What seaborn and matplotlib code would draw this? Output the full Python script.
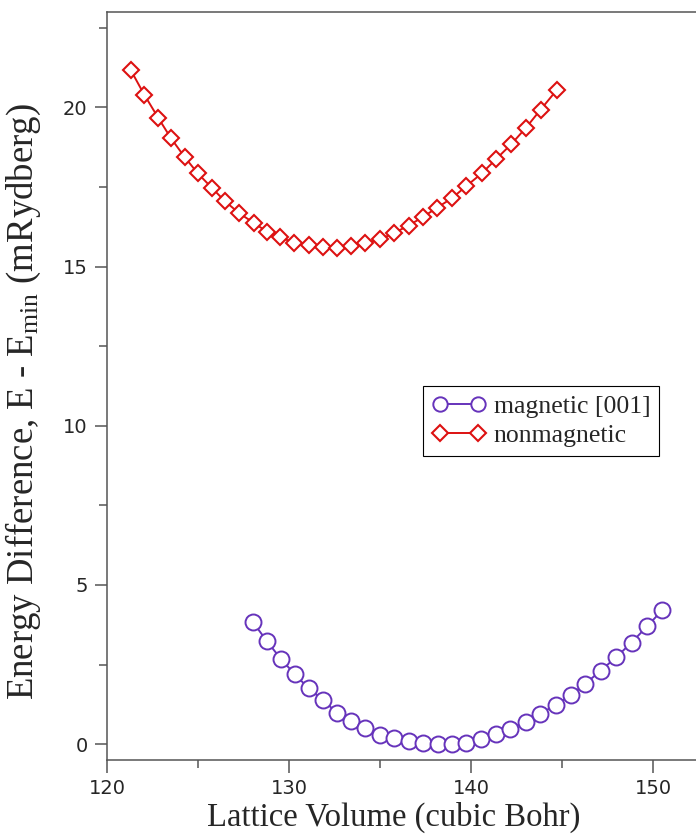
import numpy as np
import pandas as pd
import matplotlib
matplotlib.use('Agg')
from matplotlib import pyplot as plt
from matplotlib.ticker import MultipleLocator
import seaborn as sns

# lattice volume (cubic Bohr) and E - Emin (mRydberg)
vol_mag = [128.02, 128.79, 129.56, 130.31, 131.08, 131.87, 132.64, 133.43, 134.20, 134.99,
           135.76, 136.59, 137.38, 138.18, 138.97, 139.71, 140.54, 141.35, 142.17, 143.00,
           143.79, 144.65, 145.48, 146.27, 147.13, 147.98, 148.82, 149.68, 150.51]
e_mag = [3.83, 3.23, 2.67, 2.20, 1.75, 1.38, 0.98, 0.73, 0.49, 0.30,
         0.20, 0.09, 0.02, 0.00, 0.01, 0.04, 0.15, 0.31, 0.47, 0.70,
         0.96, 1.22, 1.55, 1.89, 2.31, 2.73, 3.19, 3.70, 4.21]

vol_nm = [121.30, 122.05, 122.82, 123.52, 124.27, 124.99, 125.77, 126.49, 127.26, 128.05,
          128.78, 129.53, 130.28, 131.09, 131.86, 132.63, 133.42, 134.19, 135.01, 135.78,
          136.57, 137.36, 138.13, 138.95, 139.74, 140.61, 141.38, 142.20, 143.03, 143.82, 144.70]
e_nm = [21.18, 20.40, 19.67, 19.03, 18.44, 17.93, 17.47, 17.05, 16.68, 16.38,
        16.10, 15.92, 15.75, 15.67, 15.62, 15.58, 15.65, 15.74, 15.86, 16.06,
        16.29, 16.56, 16.85, 17.15, 17.53, 17.94, 18.38, 18.84, 19.37, 19.93, 20.54]

purple = '#6633bb'
red = '#dd1111'

sns.set_style('ticks')
plt.rcParams['font.family'] = ['DejaVu Sans']
plt.rcParams['mathtext.fontset'] = 'custom'
plt.rcParams['mathtext.rm'] = 'Liberation Serif'
plt.rcParams['mathtext.it'] = 'Liberation Serif:italic'

fig = plt.figure(figsize=(6.96, 8.39), dpi=100)
# right spine is cut off in the original, so the axes runs past the figure edge
ax = fig.add_axes([107/696, 1-760/839, 637/696, 748/839])

df_mag = pd.DataFrame({'vol': vol_mag, 'e': e_mag})
df_nm = pd.DataFrame({'vol': vol_nm, 'e': e_nm})

sns.lineplot(data=df_mag, x='vol', y='e', ax=ax, color=purple, lw=1.4,
             marker='o', markersize=11.5, markerfacecolor='white',
             markeredgecolor=purple, markeredgewidth=1.4, label='magnetic [001]')
sns.lineplot(data=df_nm, x='vol', y='e', ax=ax, color=red, lw=1.4,
             marker='D', markersize=8.5, markerfacecolor='white',
             markeredgecolor=red, markeredgewidth=1.5, label='nonmagnetic')

ax.set_xlim(120, 155)
ax.set_ylim(-0.5, 23)
ax.xaxis.set_major_locator(MultipleLocator(10))
ax.xaxis.set_minor_locator(MultipleLocator(5))
ax.yaxis.set_major_locator(MultipleLocator(5))
ax.yaxis.set_minor_locator(MultipleLocator(2.5))
ax.tick_params(which='major', direction='out', length=9, width=1.1, color='#555555',
               labelsize=14, pad=5)
ax.tick_params(which='minor', direction='out', length=6, width=1.1, color='#555555')
for s in ax.spines.values():
    s.set_color('#555555')
    s.set_linewidth(1.1)

ax.set_xlabel('Lattice Volume (cubic Bohr)', family='Liberation Serif', fontsize=23.5)
ax.xaxis.set_label_coords(0.45, -0.056)
ax.set_ylabel(r'Energy Difference, E - E$_{\rm min}$ (mRydberg)', family='Liberation Serif',
              fontsize=26.5)
ax.yaxis.set_label_coords(-0.1, 0.479)

leg = ax.legend(loc='upper left', bbox_to_anchor=(423/696, 1-386/839),
                bbox_transform=fig.transFigure, frameon=True, fancybox=False,
                edgecolor='black', framealpha=1, handlelength=2.1, markerscale=0.9,
                numpoints=2, borderpad=0.35, labelspacing=0.25, handletextpad=0.3,
                borderaxespad=0, prop={'family': 'Liberation Serif', 'size': 18.5})
leg.get_frame().set_linewidth(0.8)

fig.savefig('out.png', dpi=100)
